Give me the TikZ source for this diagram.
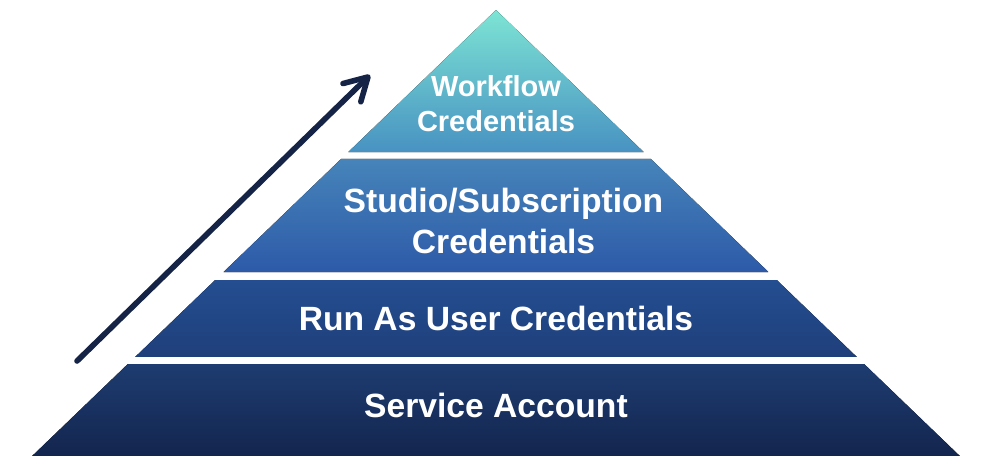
\documentclass[tikz,border=0pt]{standalone}
\usepackage{xcolor}
\usepackage{fontspec}
\setmainfont{Liberation Sans}
\usepackage{tikz}
\usetikzlibrary{arrows.meta, positioning, calc}
\definecolor{myteal}{RGB}{125,228,212}
\definecolor{mysky}{RGB}{72,146,194}
\definecolor{mysteel}{RGB}{70,132,186}
\definecolor{myblue}{RGB}{45,90,168}
\definecolor{mynavy}{RGB}{36,78,145}
\definecolor{mydeep}{RGB}{31,63,122}
\definecolor{mymidnight}{RGB}{30,60,113}
\definecolor{mydark}{RGB}{19,37,78}
\definecolor{myarrow}{RGB}{20,35,70}
\tikzset{
  layertext/.style={text=white, font=\bfseries\fontsize{31.9}{38}\selectfont,
    align=center, inner sep=0pt},
  toptext/.style={text=white, font=\bfseries\fontsize{27.5}{33}\selectfont,
    align=center, inner sep=0pt},
  arrow/.style={-{Straight Barb[length=7.5mm, width=8.5mm, round]},
    line width=5.3pt, line cap=round, color=myarrow}
}
% half width of the pyramid at height y
\newcommand{\pyrx}[1]{(15.233-#1)*1.04}

\begin{document}
\begin{tikzpicture}
  \useasboundingbox (0,0) rectangle (33.267,15.567);

  % Pyramid layers: top y, bottom y, top colour, bottom colour
  \fill[top color=myteal, bottom color=mysky]
    (16.533,15.233) -- ({16.533+\pyrx{10.5}},10.5) -- ({16.533-\pyrx{10.5}},10.5) -- cycle;
  \foreach \yt/\yb/\ct/\cb in {10.267/6.5/mysteel/myblue,
                               6.233/3.667/mynavy/mydeep,
                               3.433/0.367/mymidnight/mydark}{
    \fill[top color=\ct, bottom color=\cb]
      ({16.533-\pyrx{\yt}},\yt) -- ({16.533+\pyrx{\yt}},\yt)
      -- ({16.533+\pyrx{\yb}},\yb) -- ({16.533-\pyrx{\yb}},\yb) -- cycle;
  }

  % Layer labels
  \node[toptext] (workflow) at (16.533,12.1) {Workflow\\Credentials};
  \node[layertext] (studio) at (16.783,8.2) {Studio/Subscription\\Credentials};
  \node[layertext] (runas) at (16.533,4.967) {Run As User Credentials};
  \node[layertext] (service) at (16.533,2.067) {Service Account};

  % Rising arrow
  \coordinate (arrowstart) at (2.567,3.533);
  \coordinate (arrowend) at (12.333,13.067);
  \draw[arrow] (arrowstart) -- (arrowend);
\end{tikzpicture}
\end{document}
